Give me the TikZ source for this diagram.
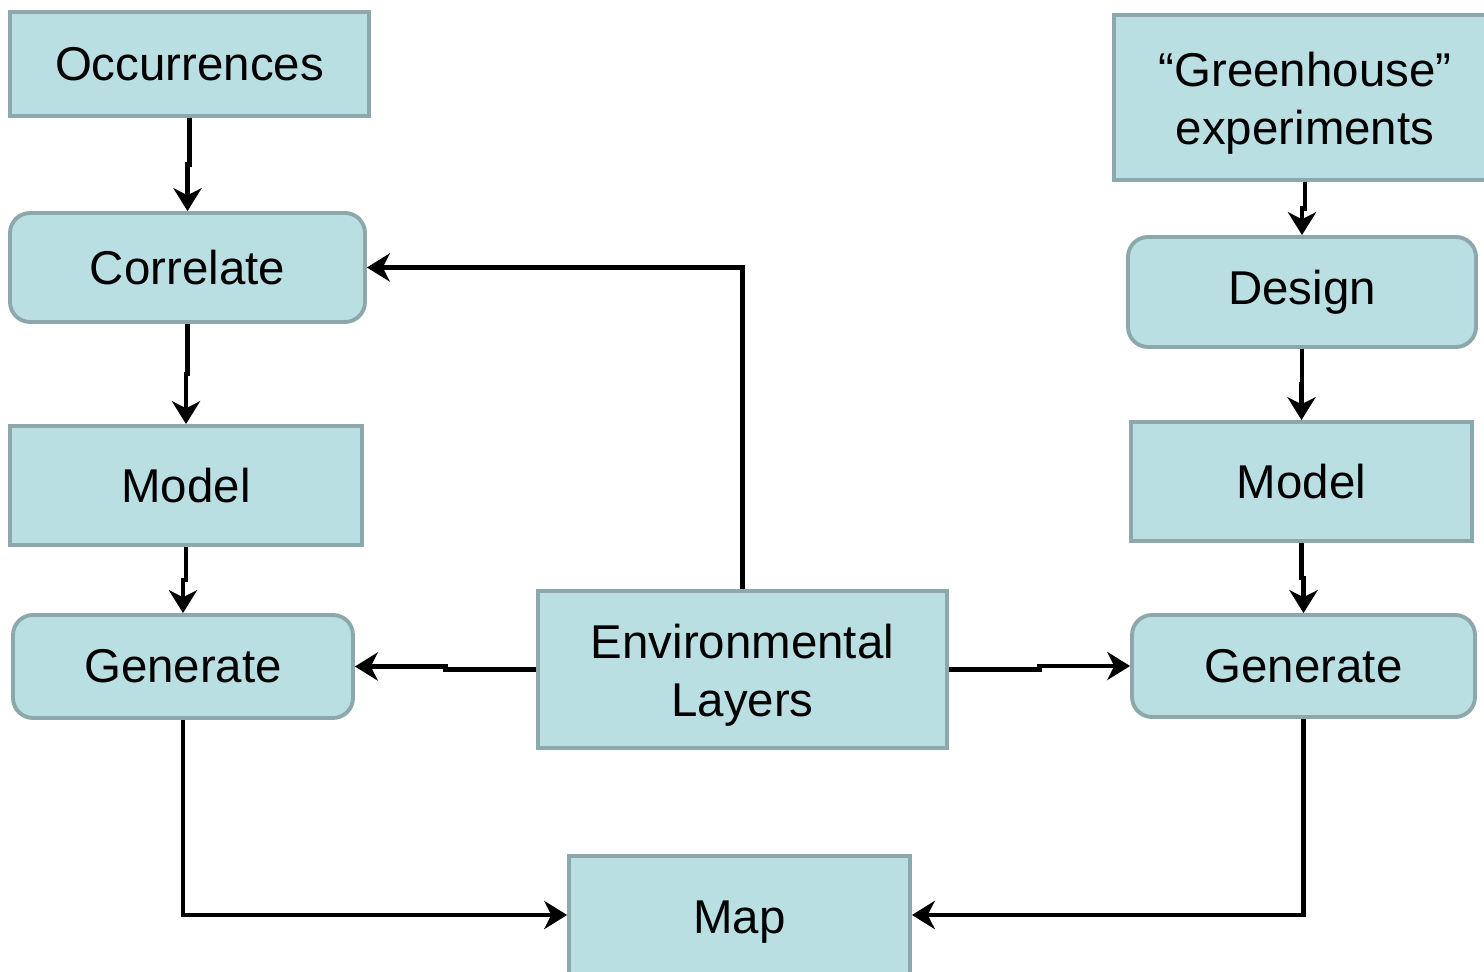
\documentclass[tikz,border=0pt]{standalone}
\usepackage{fontspec}
\setmainfont{Liberation Sans}
\usetikzlibrary{arrows.meta,calc}

\definecolor{boxfill}{HTML}{BADFE2}
\definecolor{boxline}{HTML}{8CA8AA}

% two lines of text, set a little lower inside their box
\newcommand\twolines[2]{\raisebox{-0.13cm}[\height][\depth]{\begin{tabular}{@{}c@{}}#1\\#2\end{tabular}}}

\tikzset{
  stepbox/.style={fill=boxfill,draw=boxline,line width=2.2pt,shape=rectangle,align=center,
    font=\fontsize{27}{33}\selectfont},
  roundbox/.style={stepbox,rounded corners=0.4cm},
  flow/.style={-{Stealth[length=13pt,width=16pt,inset=4pt]},line width=2.4pt}
}

\begin{document}
\begin{tikzpicture}
\useasboundingbox (0,0) rectangle (29.68,19.44);

% left column
\node[stepbox,minimum width=7.18cm,minimum height=2.08cm](occ) at (3.79,18.16){Occurrences};
\node[roundbox,minimum width=7.10cm,minimum height=2.18cm](corr) at (3.75,14.09){Correlate};
\node[stepbox,minimum width=7.04cm,minimum height=2.38cm](modelL) at (3.72,9.73){Model};
\node[roundbox,minimum width=6.80cm,minimum height=2.06cm](genL) at (3.66,6.11){Generate};

% middle
\node[stepbox,minimum width=8.18cm,minimum height=3.14cm](env) at (14.85,6.05){\twolines{Environmental}{Layers}};
\node[stepbox,minimum width=6.82cm,minimum height=2.64cm](map) at (14.79,1.00){Map};

% right column
\node[stepbox,minimum width=7.64cm,minimum height=3.30cm](green) at (26.10,17.49){\twolines{“Greenhouse”}{experiments}};
\node[roundbox,minimum width=6.96cm,minimum height=2.20cm](design) at (26.04,13.60){Design};
\node[stepbox,minimum width=6.82cm,minimum height=2.38cm](modelR) at (26.03,9.81){Model};
\node[roundbox,minimum width=6.86cm,minimum height=2.04cm](genR) at (26.07,6.12){Generate};

% vertical chains
\foreach \a/\b in {occ/corr,corr/modelL,modelL/genL,green/design,design/modelR,modelR/genR}{
  \coordinate (m) at ($(\a.south)!.5!(\b.north)$);
  \draw[flow] (\a.south) |- (m) -| (\b.north);
}

% environmental layers feed both sides
\draw[flow] (env.north) |- (corr.east);
\coordinate (ml) at ($(env.west)!.5!(genL.east)$);
\draw[flow] (env.west) -| (ml) |- (genL.east);
\coordinate (mr) at ($(env.east)!.5!(genR.west)$);
\draw[flow] (env.east) -| (mr) |- (genR.west);

% both generators go to the map
\draw[flow] (genL.south) |- ([yshift=0.14cm]map.west);
\draw[flow] (genR.south) |- ([yshift=0.14cm]map.east);
\end{tikzpicture}
\end{document}
